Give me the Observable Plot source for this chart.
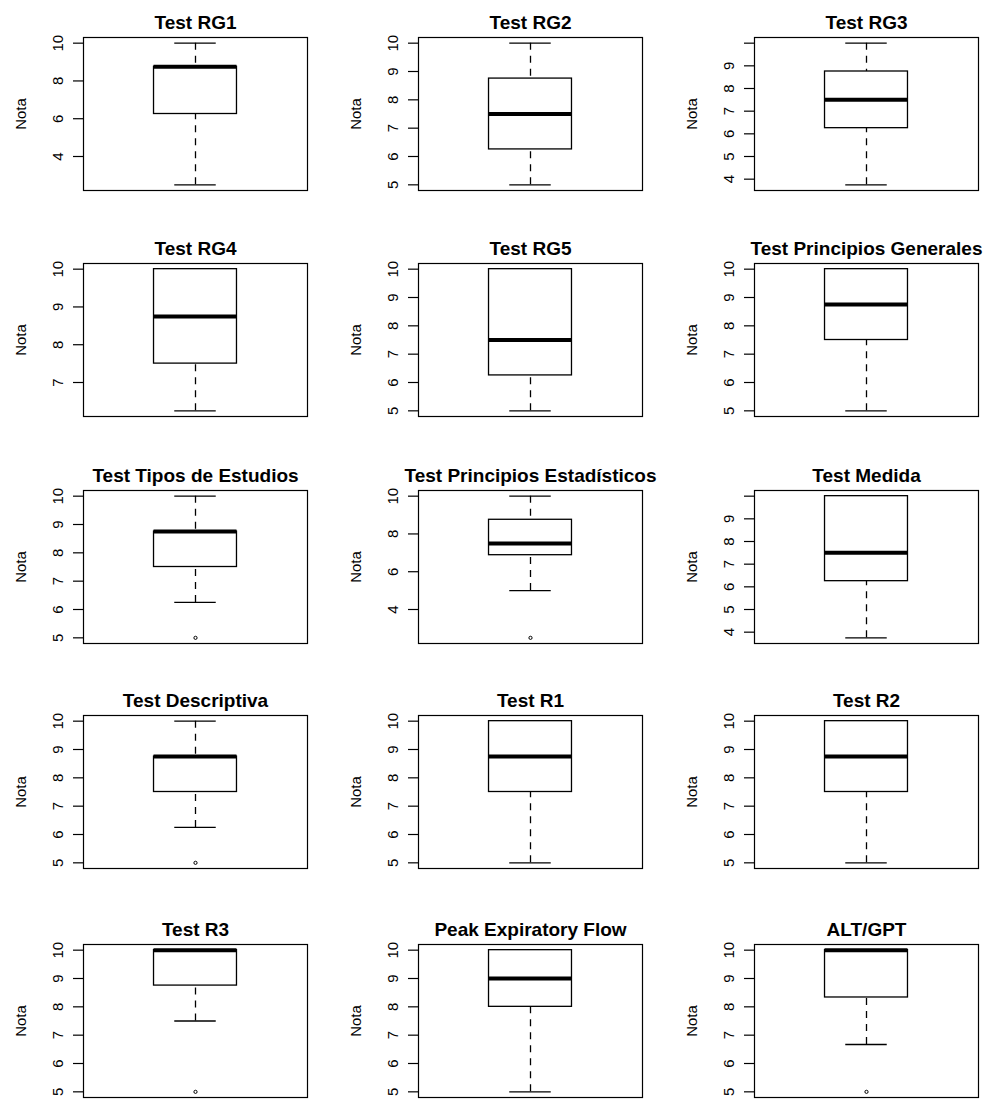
<!DOCTYPE html>
<html><head><meta charset="utf-8">
<script src="https://cdn.jsdelivr.net/npm/d3@7"></script>
<script src="https://cdn.jsdelivr.net/npm/@observablehq/plot@0.6"></script>
<style>
body{margin:0;background:#fff;overflow:hidden}
#grid{position:relative;width:985px;height:1099px}
#grid svg{position:absolute;overflow:visible}
</style></head><body><div id="grid"></div>
<script>
const titles = ["Test RG1","Test RG2","Test RG3","Test RG4","Test RG5","Test Principios Generales",
  "Test Tipos de Estudios","Test Principios Estadísticos","Test Medida","Test Descriptiva",
  "Test R1","Test R2","Test R3","Peak Expiratory Flow","ALT/GPT"];
const whiskerLow  = [2.5, 5, 3.75, 6.25, 5, 5, 6.25, 5, 3.75, 6.25, 5, 5, 7.5, 5, 6.67];
const q1          = [6.25, 6.25, 6.25, 7.5, 6.25, 7.5, 7.5, 6.875, 6.25, 7.5, 7.5, 7.5, 8.75, 8, 8.33];
const medians     = [8.75, 7.5, 7.5, 8.75, 7.5, 8.75, 8.75, 7.5, 7.5, 8.75, 8.75, 8.75, 10, 9, 10];
const q3          = [8.75, 8.75, 8.75, 10, 10, 10, 8.75, 8.75, 10, 8.75, 10, 10, 10, 10, 10];
const whiskerHigh = [10, 10, 10, 10, 10, 10, 10, 10, 10, 10, 10, 10, 10, 10, 10];
const outliers    = [[], [], [], [], [], [], [5], [2.5], [], [5], [], [], [5], [], [5]];
const tickValues = [
  [4,6,8,10],[5,6,7,8,9,10],[4,5,6,7,8,9,10],[7,8,9,10],[5,6,7,8,9,10],[5,6,7,8,9,10],
  [5,6,7,8,9,10],[4,6,8,10],[4,5,6,7,8,9,10],[5,6,7,8,9,10],[5,6,7,8,9,10],[5,6,7,8,9,10],
  [5,6,7,8,9,10],[5,6,7,8,9,10],[5,6,7,8,9,10]];
const tickLabels = [
  ["4","6","8","10"],["5","6","7","8","9","10"],["4","5","6","7","8","9",""],["7","8","9","10"],
  ["5","6","7","8","9","10"],["5","6","7","8","9","10"],["5","6","7","8","9","10"],["4","6","8","10"],
  ["4","5","6","7","8","9",""],["5","6","7","8","9","10"],["5","6","7","8","9","10"],["5","6","7","8","9","10"],
  ["5","6","7","8","9","10"],["5","6","7","8","9","10"],["5","6","7","8","9","10"]];
const yLabel = "Nota";

const colLeft = [0, 335, 671];
const rowTop = [0, 226, 453, 678, 907];
const grid = document.getElementById("grid");

titles.forEach((t, i) => {
  const lo = Math.min(whiskerLow[i], ...outliers[i]);
  const hi = Math.max(whiskerHigh[i], ...outliers[i]);
  const pad = (hi - lo) * 0.04;
  const row = {lo: whiskerLow[i], q1: q1[i], med: medians[i], q3: q3[i], hi: whiskerHigh[i]};
  const whiskers = [{a: row.lo, b: row.q1}, {a: row.hi, b: row.q3}].filter(d => d.a !== d.b);
  const svg = Plot.plot({
    width: 314, height: 192, marginLeft: 83, marginRight: 7, marginTop: 37, marginBottom: 2,
    x: {domain: [0.46, 1.54], axis: null},
    y: {domain: [lo - pad, hi + pad], axis: null},
    style: {fontFamily: "'Liberation Sans', Arial, sans-serif", fontSize: "15px", color: "black", background: "transparent", overflow: "visible"},
    marks: [
      Plot.ruleX(whiskers, {x: 1, y1: "a", y2: "b", stroke: "black", strokeWidth: 1.3, strokeDasharray: "7,6"}),
      Plot.ruleY([row.lo, row.hi], {y: d => d, x1: 0.9, x2: 1.1, stroke: "black", strokeWidth: 1.3}),
      Plot.rect([row], {x1: 0.8, x2: 1.2, y1: "q1", y2: "q3", fill: "white", stroke: "black", strokeWidth: 1.3}),
      Plot.ruleY([row], {y: "med", x1: 0.8, x2: 1.2, stroke: "black", strokeWidth: 4}),
      Plot.dot(outliers[i], {x: 1, y: d => d, r: 1.6, stroke: "black", fill: "none", strokeWidth: 1}),
      Plot.axisY({ticks: tickValues[i], tickSize: 10, tickFormat: () => "", label: null, stroke: "black", strokeWidth: 1.2}),
      Plot.text(tickValues[i], {y: d => d, text: (d, j) => tickLabels[i][j], frameAnchor: "left", dx: -21, rotate: -90,
        textAnchor: "middle", lineAnchor: "bottom", fontSize: 15, fill: "black"}),
      Plot.text([yLabel], {text: d => d, frameAnchor: "left", dx: -58, rotate: -90, textAnchor: "middle", lineAnchor: "bottom", fontSize: 15, fill: "black"}),
      Plot.text([t], {text: d => d, frameAnchor: "top", dy: -9, lineAnchor: "bottom", textAnchor: "middle", fontSize: 19, fontWeight: "bold", fill: "black"}),
      Plot.frame({stroke: "black", strokeWidth: 1.2})
    ]
  });
  svg.style.left = colLeft[i % 3] + "px";
  svg.style.top = rowTop[Math.floor(i / 3)] + "px";
  grid.appendChild(svg);
});
</script></body></html>
